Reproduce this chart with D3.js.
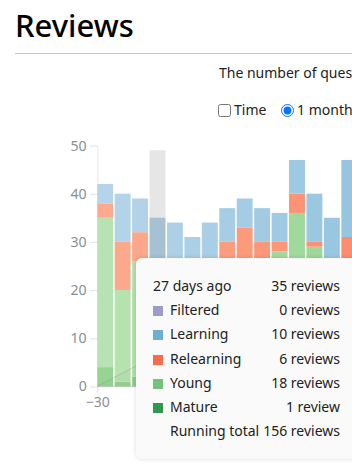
<!DOCTYPE html>
<html>
<head>
<meta charset="utf-8">
<script src="https://cdn.jsdelivr.net/npm/d3@7"></script>
<style>
  html { margin: 0; padding: 0; width: 352px; height: 465px; overflow: hidden; background: #fff; }
  body { margin: 0; padding: 0; width: 900px; height: 465px; position: relative; font-family: "Noto Sans", "Open Sans", sans-serif; color: #222; }
  h1 { position: absolute; left: 15px; top: 10px; margin: 0; font-size: 31px; line-height: 31px; font-weight: 500; color: #000; white-space: nowrap; }
  .rule { position: absolute; left: 15px; top: 53px; width: 705px; border-top: 1px solid #c8c8c8; }
  .subtitle { position: absolute; left: 219px; top: 63px; font-size: 14px; line-height: 20px; white-space: nowrap; }
  .controls { position: absolute; left: 218px; top: 100px; font-size: 14px; line-height: 20px; white-space: nowrap; }
  .controls label { margin-right: 11px; }
  .controls input { margin: 0 3px 0 0; vertical-align: -2px; }
  #chart { position: absolute; left: 15px; top: 122px; }
  .tooltip { position: absolute; left: 136px; top: 258px; width: 187px; padding: 15px 17px 16px 17px; background: #fafafa;
             border-radius: 6px; box-shadow: 0 0 4px rgba(0,0,0,0.15); font-size: 14px; color: #222; }
  .tooltip table { border-collapse: collapse; width: 187px; }
  .tooltip td { padding: 0; height: 24.3px; white-space: nowrap; }
  .tooltip td:last-child { text-align: right; padding-left: 3px; }
  .sw { display: inline-block; width: 10px; height: 10px; margin-right: 7px; vertical-align: -1px; }
</style>
</head>
<body>
<h1>Reviews</h1>
<div class="rule"></div>
<div class="subtitle">The number of questions you have answered.</div>
<div class="controls">
  <label><input type="checkbox">Time</label>
  <label><input type="radio" name="range" checked>1 month</label>
  <label><input type="radio" name="range">3 months</label>
  <label><input type="radio" name="range">1 year</label>
  <label><input type="radio" name="range">All history</label>
</div>
<div id="chart"></div>
<div class="tooltip" id="tip"></div>
<script>
// days relative to today, one bin per day
const days = [-30, -29, -28, -27, -26, -25, -24, -23, -22, -21, -20, -19, -18, -17, -16,
              -15, -14, -13, -12, -11, -10, -9, -8, -7, -6, -5, -4, -3, -2, -1, 0];
const mature     = [4, 1, 2, 1, 1, 0, 2, 1, 2, 1, 2, 3, 2, 1, 2, 2, 1, 3, 2, 2, 1, 2, 3, 1, 2, 1, 2, 3, 2, 1, 1];
const young      = [31, 19, 24, 18, 17, 16, 15, 18, 20, 21, 26, 33, 27, 17, 22, 18, 16, 28, 19, 20, 15, 17, 22, 16, 19, 13, 18, 20, 16, 14, 6];
const relearning = [3, 10, 6, 6, 5, 4, 7, 11, 11, 8, 2, 4, 1, 6, 7, 5, 4, 8, 4, 6, 3, 5, 6, 4, 5, 3, 4, 5, 4, 3, 2];
const learning   = [4, 10, 7, 10, 11, 11, 10, 7, 6, 7, 6, 7, 10, 11, 16, 9, 9, 10, 8, 9, 8, 7, 9, 8, 8, 7, 8, 8, 8, 7, 3];
const filtered   = [0, 0, 0, 0, 0, 0, 0, 0, 0, 0, 0, 0, 0, 0, 0, 0, 0, 0, 0, 0, 0, 0, 0, 0, 0, 0, 0, 0, 0, 0, 0];
const hoverDay = -27;

// graph bounds in viewBox units
const bounds = { width: 600, height: 250, marginLeft: 70, marginRight: 70, marginTop: 20, marginBottom: 25 };

const data = days.map((d, i) => ({
  day: d,
  mature: mature[i],
  young: young[i],
  relearning: relearning[i],
  learning: learning[i],
  filtered: filtered[i]
}));
data.forEach(d => { d.total = d.mature + d.young + d.relearning + d.learning + d.filtered; });

const keys = ['mature', 'young', 'relearning', 'learning', 'filtered'];
const stacked = d3.stack().keys(keys)(data);

const x = d3.scaleLinear()
  .domain([d3.min(days), d3.max(days) + 1])
  .range([bounds.marginLeft, bounds.width - bounds.marginRight]);

const yMax = d3.max(data, d => d.total);
const y = d3.scaleLinear()
  .domain([0, yMax])
  .range([bounds.height - bounds.marginBottom, bounds.marginTop])
  .nice();

// colours shade darker towards today
const cappedRange = d3.scaleLinear().range([0.3, 0.5]);
const shiftedRange = d3.scaleLinear().range([0.4, 0.7]);
const colours = {
  mature: d3.scaleSequential(n => d3.interpolateGreens(shiftedRange(n))).domain(x.domain()),
  young: d3.scaleSequential(n => d3.interpolateGreens(cappedRange(n))).domain(x.domain()),
  relearning: d3.scaleSequential(n => d3.interpolateReds(cappedRange(n))).domain(x.domain()),
  learning: d3.scaleSequential(n => d3.interpolateBlues(cappedRange(n))).domain(x.domain()),
  filtered: d3.scaleSequential(n => d3.interpolatePurples(cappedRange(n))).domain(x.domain())
};

const svg = d3.select('#chart').append('svg')
  .attr('width', 705)
  .attr('height', 705 * bounds.height / bounds.width)
  .attr('viewBox', `0 0 ${bounds.width} ${bounds.height}`);

// axes
const styleAxis = g => {
  g.attr('font-family', '"Noto Sans", "Open Sans", sans-serif').attr('font-size', 12);
  g.selectAll('.tick text').attr('fill', '#8a8f96');
  g.selectAll('.tick line').attr('stroke', '#000').attr('stroke-opacity', 0.1);
  g.select('.domain').attr('stroke', '#000').attr('stroke-opacity', 0.08);
};

svg.append('g')
  .attr('transform', `translate(0, ${bounds.height - bounds.marginBottom})`)
  .call(d3.axisBottom(x).ticks(7).tickSizeOuter(0))
  .call(styleAxis);

svg.append('g')
  .attr('transform', `translate(${bounds.marginLeft}, 0)`)
  .call(d3.axisLeft(y).ticks(5).tickSizeOuter(0))
  .call(styleAxis);

// bars
const barWidth = d => Math.max(0, x(d.data.day + 1) - x(d.data.day) - 1.3);
svg.append('g').selectAll('g')
  .data(stacked)
  .join('g')
  .selectAll('rect')
  .data(s => s.map(d => Object.assign(d, { key: s.key })))
  .join('rect')
  .attr('x', d => x(d.data.day))
  .attr('width', barWidth)
  .attr('y', d => y(d[1]))
  .attr('height', d => y(d[0]) - y(d[1]))
  .attr('fill', d => colours[d.key](d.data.day));

// running total
const cumulative = [0].concat(Array.from(d3.cumsum(data, d => d.total)));
const y2 = d3.scaleLinear()
  .domain([0, cumulative[cumulative.length - 1]])
  .range([bounds.height - bounds.marginBottom, bounds.marginTop]);

const areaX = [x.domain()[0]].concat(days.map(d => d + 1));
svg.append('path')
  .datum(cumulative)
  .attr('fill', 'grey')
  .attr('fill-opacity', 0.06)
  .attr('stroke', 'grey')
  .attr('stroke-opacity', 0.35)
  .attr('stroke-width', 0.7)
  .attr('d', d3.area()
    .curve(d3.curveBasis)
    .x((_d, i) => x(areaX[i]))
    .y0(y2(0))
    .y1(d => y2(d)));

svg.append('g')
  .attr('transform', `translate(${bounds.width - bounds.marginRight}, 0)`)
  .call(d3.axisRight(y2).ticks(5).tickSizeOuter(0))
  .call(styleAxis);

// hover highlight
const hovered = data.find(d => d.day === hoverDay);
svg.append('rect')
  .attr('x', x(hoverDay))
  .attr('width', x(hoverDay + 1) - x(hoverDay) - 1.3)
  .attr('y', y(yMax))
  .attr('height', y(0) - y(yMax))
  .attr('fill', 'grey')
  .attr('opacity', 0.2);

// tooltip
const hoverIdx = days.indexOf(hoverDay);
const plural = n => n === 1 ? `${n} review` : `${n} reviews`;
const rows = [
  { label: 'Filtered', key: 'filtered', colour: d3.interpolatePurples(0.5) },
  { label: 'Learning', key: 'learning', colour: d3.interpolateBlues(0.5) },
  { label: 'Relearning', key: 'relearning', colour: d3.interpolateReds(0.5) },
  { label: 'Young', key: 'young', colour: d3.interpolateGreens(0.5) },
  { label: 'Mature', key: 'mature', colour: d3.interpolateGreens(0.7) }
];

const table = d3.select('#tip').append('table');
const head = table.append('tr');
head.append('td').text(`${-hoverDay} days ago`);
head.append('td').text(plural(hovered.total));

rows.forEach(r => {
  const tr = table.append('tr');
  const td = tr.append('td');
  td.append('span').attr('class', 'sw').style('background', r.colour);
  td.append('span').text(r.label);
  tr.append('td').text(plural(hovered[r.key]));
});

const last = table.append('tr');
const lastTd = last.append('td');
lastTd.append('span').attr('class', 'sw').style('background', 'transparent');
lastTd.append('span').text('Running total');
last.append('td').text(plural(cumulative[hoverIdx + 1]));
</script>
</body>
</html>
